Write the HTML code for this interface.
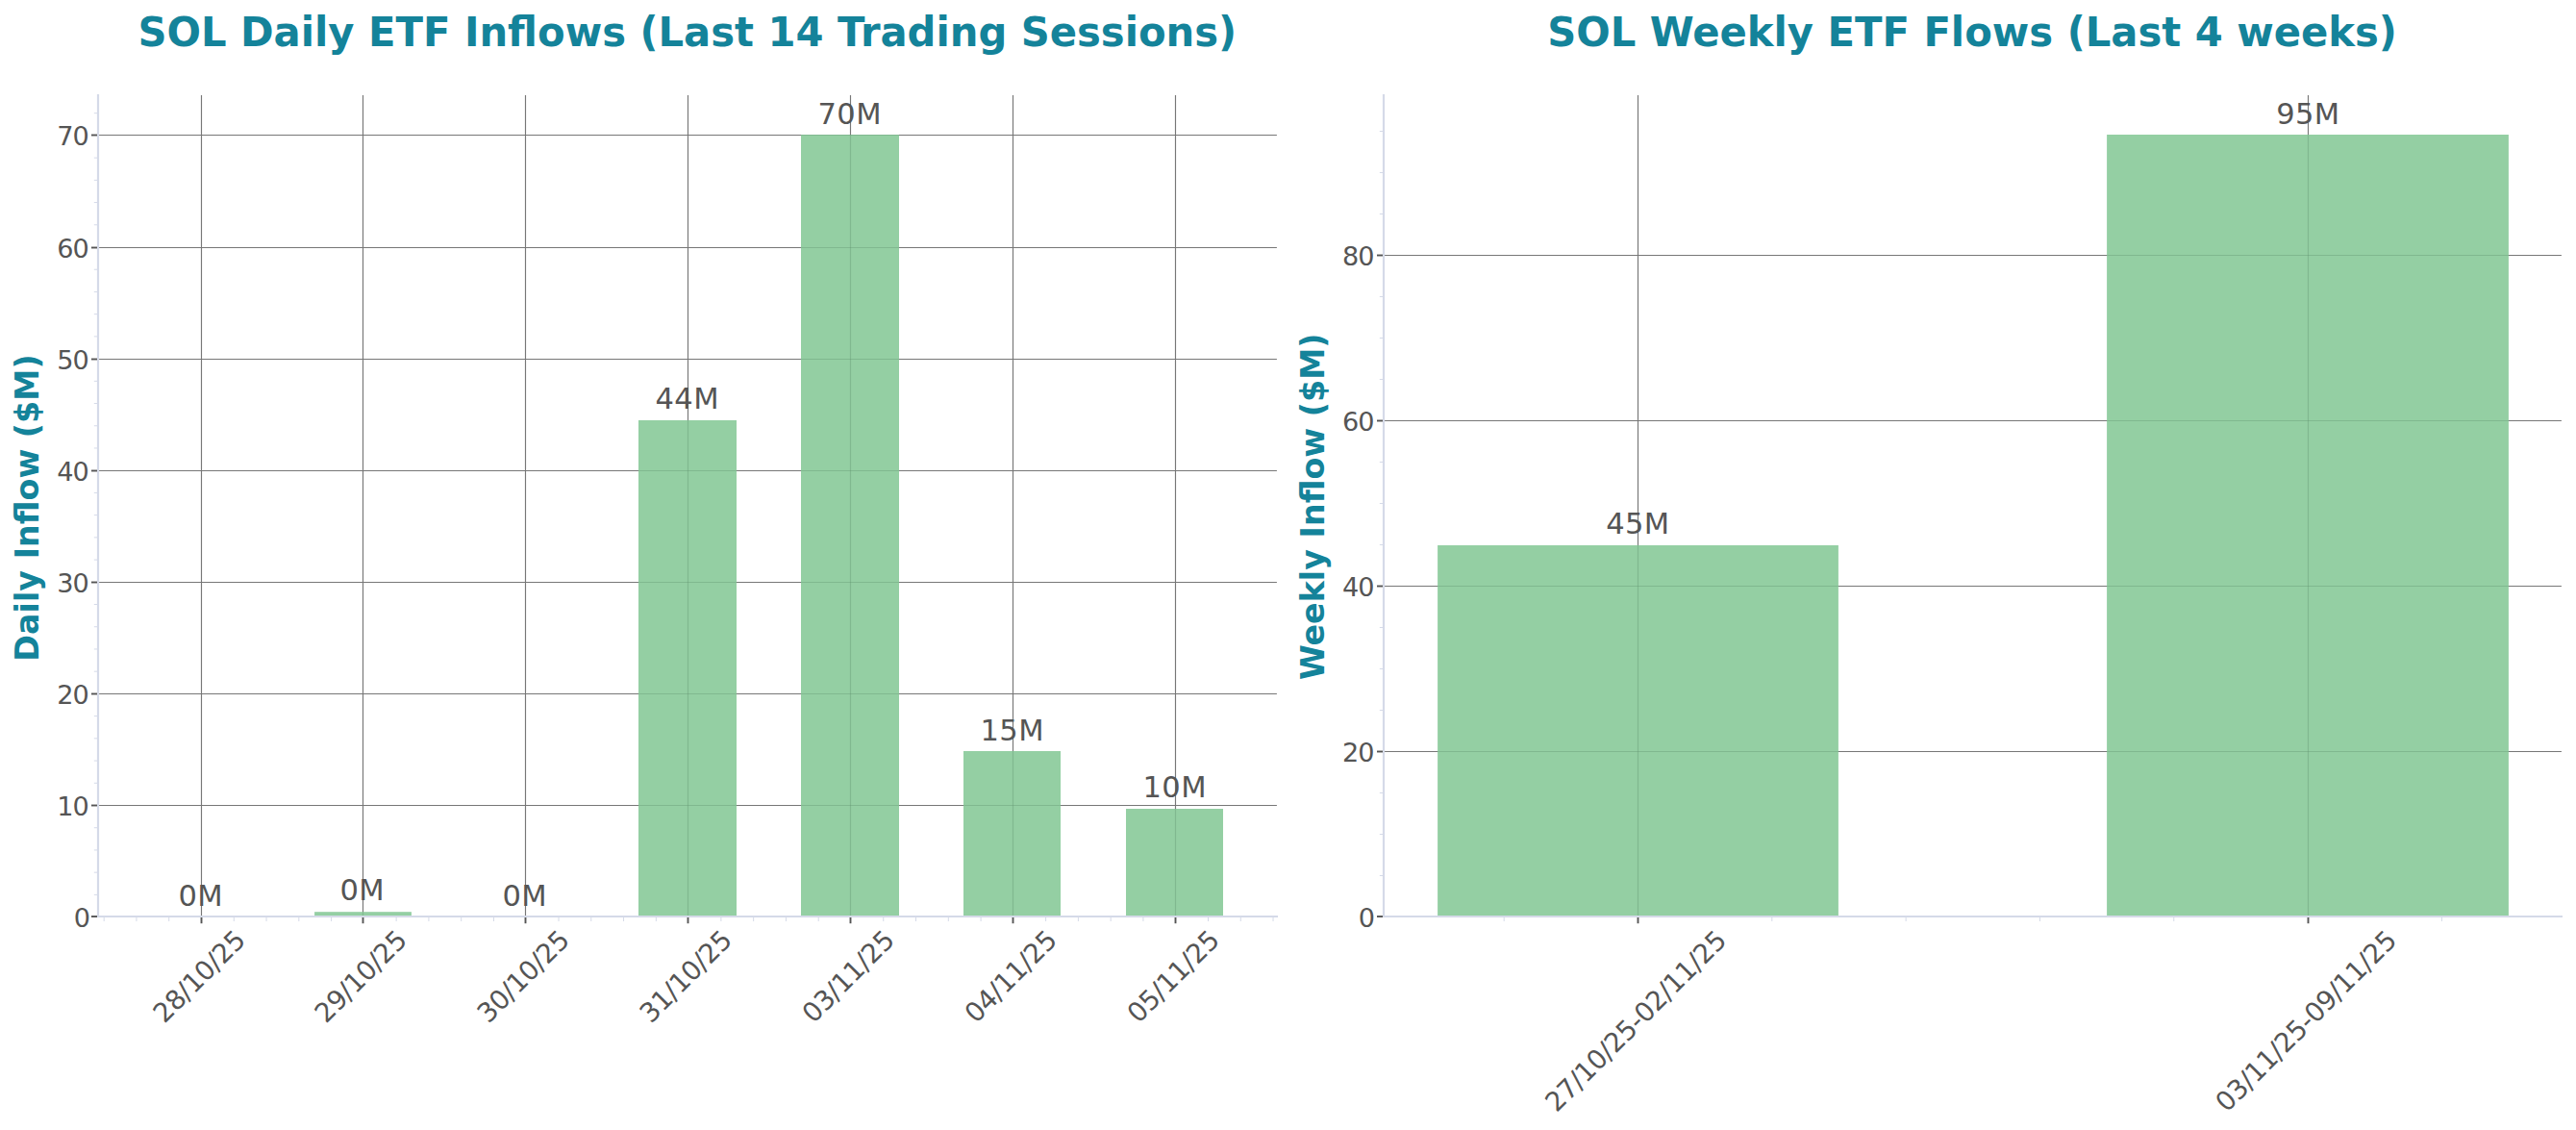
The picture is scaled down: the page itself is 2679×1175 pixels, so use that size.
<!DOCTYPE html>
<html lang="en"><head><meta charset="utf-8"><title>SOL ETF Flows</title>
<style>
html,body{margin:0;padding:0;background:#fff;}
body{width:2679px;height:1175px;overflow:hidden;}
svg{display:block;font-family:"DejaVu Sans", "Liberation Sans", sans-serif;}
</style></head><body>
<svg width="2679" height="1175" viewBox="0 0 2679 1175">
<rect width="2679" height="1175" fill="#ffffff"/>
<g stroke="#777777" stroke-width="1.15" fill="none">
<line x1="102.0" y1="837.50" x2="1327.9" y2="837.50"/>
<line x1="102.0" y1="721.50" x2="1327.9" y2="721.50"/>
<line x1="102.0" y1="605.50" x2="1327.9" y2="605.50"/>
<line x1="102.0" y1="489.50" x2="1327.9" y2="489.50"/>
<line x1="102.0" y1="373.50" x2="1327.9" y2="373.50"/>
<line x1="102.0" y1="257.50" x2="1327.9" y2="257.50"/>
<line x1="102.0" y1="140.50" x2="1327.9" y2="140.50"/>
<line x1="209.50" y1="99.0" x2="209.50" y2="953.0"/>
<line x1="377.50" y1="99.0" x2="377.50" y2="953.0"/>
<line x1="546.50" y1="99.0" x2="546.50" y2="953.0"/>
<line x1="715.50" y1="99.0" x2="715.50" y2="953.0"/>
<line x1="884.50" y1="99.0" x2="884.50" y2="953.0"/>
<line x1="1053.50" y1="99.0" x2="1053.50" y2="953.0"/>
<line x1="1222.50" y1="99.0" x2="1222.50" y2="953.0"/>
</g>
<g fill="#94cfa3">
<rect x="327.10" y="948.20" width="100.80" height="4.80"/>
<rect x="664.00" y="437.00" width="102.00" height="516.00"/>
<rect x="833.00" y="140.00" width="102.00" height="813.00"/>
<rect x="1002.00" y="781.00" width="101.00" height="172.00"/>
<rect x="1171.00" y="841.00" width="101.00" height="112.00"/>
</g>
<g stroke="#5f8f6c" stroke-opacity="0.36" stroke-width="1.1" fill="none">
<line x1="377.50" y1="948.20" x2="377.50" y2="953.0"/>
<line x1="715.50" y1="437.00" x2="715.50" y2="953.0"/>
<line x1="664.00" y1="837.50" x2="766.00" y2="837.50"/>
<line x1="664.00" y1="721.50" x2="766.00" y2="721.50"/>
<line x1="664.00" y1="605.50" x2="766.00" y2="605.50"/>
<line x1="664.00" y1="489.50" x2="766.00" y2="489.50"/>
<line x1="884.50" y1="140.00" x2="884.50" y2="953.0"/>
<line x1="833.00" y1="837.50" x2="935.00" y2="837.50"/>
<line x1="833.00" y1="721.50" x2="935.00" y2="721.50"/>
<line x1="833.00" y1="605.50" x2="935.00" y2="605.50"/>
<line x1="833.00" y1="489.50" x2="935.00" y2="489.50"/>
<line x1="833.00" y1="373.50" x2="935.00" y2="373.50"/>
<line x1="833.00" y1="257.50" x2="935.00" y2="257.50"/>
<line x1="833.00" y1="140.50" x2="935.00" y2="140.50"/>
<line x1="1053.50" y1="781.00" x2="1053.50" y2="953.0"/>
<line x1="1002.00" y1="837.50" x2="1103.00" y2="837.50"/>
<line x1="1222.50" y1="841.00" x2="1222.50" y2="953.0"/>
</g>
<g stroke="#d5dae8" stroke-width="2.2" fill="none" stroke-linecap="square">
<line x1="102.0" y1="99.0" x2="102.0" y2="953.0"/>
<line x1="102.0" y1="953.0" x2="1327.9" y2="953.0"/>
</g>
<g stroke="#d5dae8" stroke-width="1.0" fill="none">
<line x1="97.8" y1="930.38" x2="101.0" y2="930.38"/>
<line x1="97.8" y1="907.16" x2="101.0" y2="907.16"/>
<line x1="97.8" y1="883.94" x2="101.0" y2="883.94"/>
<line x1="97.8" y1="860.72" x2="101.0" y2="860.72"/>
<line x1="97.8" y1="814.28" x2="101.0" y2="814.28"/>
<line x1="97.8" y1="791.06" x2="101.0" y2="791.06"/>
<line x1="97.8" y1="767.84" x2="101.0" y2="767.84"/>
<line x1="97.8" y1="744.62" x2="101.0" y2="744.62"/>
<line x1="97.8" y1="698.18" x2="101.0" y2="698.18"/>
<line x1="97.8" y1="674.96" x2="101.0" y2="674.96"/>
<line x1="97.8" y1="651.74" x2="101.0" y2="651.74"/>
<line x1="97.8" y1="628.52" x2="101.0" y2="628.52"/>
<line x1="97.8" y1="582.08" x2="101.0" y2="582.08"/>
<line x1="97.8" y1="558.86" x2="101.0" y2="558.86"/>
<line x1="97.8" y1="535.64" x2="101.0" y2="535.64"/>
<line x1="97.8" y1="512.42" x2="101.0" y2="512.42"/>
<line x1="97.8" y1="465.98" x2="101.0" y2="465.98"/>
<line x1="97.8" y1="442.76" x2="101.0" y2="442.76"/>
<line x1="97.8" y1="419.54" x2="101.0" y2="419.54"/>
<line x1="97.8" y1="396.32" x2="101.0" y2="396.32"/>
<line x1="97.8" y1="349.88" x2="101.0" y2="349.88"/>
<line x1="97.8" y1="326.66" x2="101.0" y2="326.66"/>
<line x1="97.8" y1="303.44" x2="101.0" y2="303.44"/>
<line x1="97.8" y1="280.22" x2="101.0" y2="280.22"/>
<line x1="97.8" y1="233.78" x2="101.0" y2="233.78"/>
<line x1="97.8" y1="210.56" x2="101.0" y2="210.56"/>
<line x1="97.8" y1="187.34" x2="101.0" y2="187.34"/>
<line x1="97.8" y1="164.12" x2="101.0" y2="164.12"/>
<line x1="97.8" y1="117.68" x2="101.0" y2="117.68"/>
<line x1="108.18" y1="954.0" x2="108.18" y2="958.0"/>
<line x1="141.95" y1="954.0" x2="141.95" y2="958.0"/>
<line x1="175.73" y1="954.0" x2="175.73" y2="958.0"/>
<line x1="243.27" y1="954.0" x2="243.27" y2="958.0"/>
<line x1="277.05" y1="954.0" x2="277.05" y2="958.0"/>
<line x1="310.82" y1="954.0" x2="310.82" y2="958.0"/>
<line x1="344.60" y1="954.0" x2="344.60" y2="958.0"/>
<line x1="412.14" y1="954.0" x2="412.14" y2="958.0"/>
<line x1="445.92" y1="954.0" x2="445.92" y2="958.0"/>
<line x1="479.69" y1="954.0" x2="479.69" y2="958.0"/>
<line x1="513.47" y1="954.0" x2="513.47" y2="958.0"/>
<line x1="581.01" y1="954.0" x2="581.01" y2="958.0"/>
<line x1="614.79" y1="954.0" x2="614.79" y2="958.0"/>
<line x1="648.56" y1="954.0" x2="648.56" y2="958.0"/>
<line x1="682.34" y1="954.0" x2="682.34" y2="958.0"/>
<line x1="749.88" y1="954.0" x2="749.88" y2="958.0"/>
<line x1="783.66" y1="954.0" x2="783.66" y2="958.0"/>
<line x1="817.43" y1="954.0" x2="817.43" y2="958.0"/>
<line x1="851.21" y1="954.0" x2="851.21" y2="958.0"/>
<line x1="918.75" y1="954.0" x2="918.75" y2="958.0"/>
<line x1="952.53" y1="954.0" x2="952.53" y2="958.0"/>
<line x1="986.30" y1="954.0" x2="986.30" y2="958.0"/>
<line x1="1020.08" y1="954.0" x2="1020.08" y2="958.0"/>
<line x1="1087.62" y1="954.0" x2="1087.62" y2="958.0"/>
<line x1="1121.40" y1="954.0" x2="1121.40" y2="958.0"/>
<line x1="1155.17" y1="954.0" x2="1155.17" y2="958.0"/>
<line x1="1188.95" y1="954.0" x2="1188.95" y2="958.0"/>
<line x1="1256.49" y1="954.0" x2="1256.49" y2="958.0"/>
<line x1="1290.27" y1="954.0" x2="1290.27" y2="958.0"/>
<line x1="1324.04" y1="954.0" x2="1324.04" y2="958.0"/>
</g>
<g stroke="#555555" stroke-width="1.9" fill="none">
<line x1="95.0" y1="953.00" x2="101.0" y2="953.00"/>
<line x1="95.0" y1="837.50" x2="101.0" y2="837.50"/>
<line x1="95.0" y1="721.50" x2="101.0" y2="721.50"/>
<line x1="95.0" y1="605.50" x2="101.0" y2="605.50"/>
<line x1="95.0" y1="489.50" x2="101.0" y2="489.50"/>
<line x1="95.0" y1="373.50" x2="101.0" y2="373.50"/>
<line x1="95.0" y1="257.50" x2="101.0" y2="257.50"/>
<line x1="95.0" y1="140.50" x2="101.0" y2="140.50"/>
<line x1="209.50" y1="954.0" x2="209.50" y2="960.2"/>
<line x1="377.50" y1="954.0" x2="377.50" y2="960.2"/>
<line x1="546.50" y1="954.0" x2="546.50" y2="960.2"/>
<line x1="715.50" y1="954.0" x2="715.50" y2="960.2"/>
<line x1="884.50" y1="954.0" x2="884.50" y2="960.2"/>
<line x1="1053.50" y1="954.0" x2="1053.50" y2="960.2"/>
<line x1="1222.50" y1="954.0" x2="1222.50" y2="960.2"/>
</g>
<g font-size="27.1" fill="#555555" text-anchor="end" letter-spacing="-1.0">
<text x="93.00" y="963.50">0</text>
<text x="91.70" y="848.00">10</text>
<text x="91.70" y="732.00">20</text>
<text x="91.70" y="616.00">30</text>
<text x="91.70" y="500.00">40</text>
<text x="91.70" y="384.00">50</text>
<text x="91.70" y="268.00">60</text>
<text x="91.70" y="151.00">70</text>
</g>
<g font-size="30.56" fill="#555555" text-anchor="middle" letter-spacing="0.42">
<text x="208.70" y="941.80">0M</text>
<text x="376.70" y="936.30">0M</text>
<text x="545.70" y="941.50">0M</text>
<text x="714.70" y="425.20">44M</text>
<text x="883.70" y="129.20">70M</text>
<text x="1052.70" y="770.00">15M</text>
<text x="1221.70" y="828.70">10M</text>
</g>
<g font-size="27.78" fill="#555555" text-anchor="middle" letter-spacing="-0.45">
<text transform="translate(207.50,1015.90) rotate(-45)" x="0" y="8.9">28/10/25</text>
<text transform="translate(375.50,1015.90) rotate(-45)" x="0" y="8.9">29/10/25</text>
<text transform="translate(544.50,1015.90) rotate(-45)" x="0" y="8.9">30/10/25</text>
<text transform="translate(713.50,1015.90) rotate(-45)" x="0" y="8.9">31/10/25</text>
<text transform="translate(882.50,1015.90) rotate(-45)" x="0" y="8.9">03/11/25</text>
<text transform="translate(1051.50,1015.90) rotate(-45)" x="0" y="8.9">04/11/25</text>
<text transform="translate(1220.50,1015.90) rotate(-45)" x="0" y="8.9">05/11/25</text>
</g>
<text transform="translate(714.8,47.9) scale(1,1.02)" font-size="41.71" font-weight="bold" fill="#14839a" text-anchor="middle">SOL Daily ETF Inflows (Last 14 Trading Sessions)</text>
<text transform="translate(40.4,528) rotate(-90)" font-size="33.33" font-weight="bold" fill="#14839a" text-anchor="middle">Daily Inflow ($M)</text>
<g stroke="#777777" stroke-width="1.15" fill="none">
<line x1="1439.0" y1="781.50" x2="2663.9" y2="781.50"/>
<line x1="1439.0" y1="609.50" x2="2663.9" y2="609.50"/>
<line x1="1439.0" y1="437.50" x2="2663.9" y2="437.50"/>
<line x1="1439.0" y1="265.50" x2="2663.9" y2="265.50"/>
<line x1="1703.50" y1="99.0" x2="1703.50" y2="953.0"/>
<line x1="2400.50" y1="99.0" x2="2400.50" y2="953.0"/>
</g>
<g fill="#94cfa3">
<rect x="1495.10" y="567.00" width="416.80" height="386.00"/>
<rect x="2191.10" y="140.00" width="417.80" height="813.00"/>
</g>
<g stroke="#5f8f6c" stroke-opacity="0.36" stroke-width="1.1" fill="none">
<line x1="1703.50" y1="567.00" x2="1703.50" y2="953.0"/>
<line x1="1495.10" y1="781.50" x2="1911.90" y2="781.50"/>
<line x1="1495.10" y1="609.50" x2="1911.90" y2="609.50"/>
<line x1="2400.50" y1="140.00" x2="2400.50" y2="953.0"/>
<line x1="2191.10" y1="781.50" x2="2608.90" y2="781.50"/>
<line x1="2191.10" y1="609.50" x2="2608.90" y2="609.50"/>
<line x1="2191.10" y1="437.50" x2="2608.90" y2="437.50"/>
<line x1="2191.10" y1="265.50" x2="2608.90" y2="265.50"/>
</g>
<g stroke="#d5dae8" stroke-width="2.2" fill="none" stroke-linecap="square">
<line x1="1439.0" y1="99.0" x2="1439.0" y2="953.0"/>
<line x1="1439.0" y1="953.0" x2="2663.9" y2="953.0"/>
</g>
<g stroke="#d5dae8" stroke-width="1.0" fill="none">
<line x1="1434.8" y1="910.50" x2="1438.0" y2="910.50"/>
<line x1="1434.8" y1="867.50" x2="1438.0" y2="867.50"/>
<line x1="1434.8" y1="824.50" x2="1438.0" y2="824.50"/>
<line x1="1434.8" y1="738.50" x2="1438.0" y2="738.50"/>
<line x1="1434.8" y1="695.50" x2="1438.0" y2="695.50"/>
<line x1="1434.8" y1="652.50" x2="1438.0" y2="652.50"/>
<line x1="1434.8" y1="566.50" x2="1438.0" y2="566.50"/>
<line x1="1434.8" y1="523.50" x2="1438.0" y2="523.50"/>
<line x1="1434.8" y1="480.50" x2="1438.0" y2="480.50"/>
<line x1="1434.8" y1="394.50" x2="1438.0" y2="394.50"/>
<line x1="1434.8" y1="351.50" x2="1438.0" y2="351.50"/>
<line x1="1434.8" y1="308.50" x2="1438.0" y2="308.50"/>
<line x1="1434.8" y1="222.50" x2="1438.0" y2="222.50"/>
<line x1="1434.8" y1="179.50" x2="1438.0" y2="179.50"/>
<line x1="1434.8" y1="136.50" x2="1438.0" y2="136.50"/>
<line x1="1564.18" y1="954.0" x2="1564.18" y2="958.0"/>
<line x1="1842.82" y1="954.0" x2="1842.82" y2="958.0"/>
<line x1="1982.14" y1="954.0" x2="1982.14" y2="958.0"/>
<line x1="2121.46" y1="954.0" x2="2121.46" y2="958.0"/>
<line x1="2260.78" y1="954.0" x2="2260.78" y2="958.0"/>
<line x1="2539.42" y1="954.0" x2="2539.42" y2="958.0"/>
</g>
<g stroke="#555555" stroke-width="1.9" fill="none">
<line x1="1432.0" y1="953.00" x2="1438.0" y2="953.00"/>
<line x1="1432.0" y1="781.50" x2="1438.0" y2="781.50"/>
<line x1="1432.0" y1="609.50" x2="1438.0" y2="609.50"/>
<line x1="1432.0" y1="437.50" x2="1438.0" y2="437.50"/>
<line x1="1432.0" y1="265.50" x2="1438.0" y2="265.50"/>
<line x1="1703.50" y1="954.0" x2="1703.50" y2="960.2"/>
<line x1="2400.50" y1="954.0" x2="2400.50" y2="960.2"/>
</g>
<g font-size="27.1" fill="#555555" text-anchor="end" letter-spacing="-1.0">
<text x="1429.10" y="963.50">0</text>
<text x="1428.50" y="792.00">20</text>
<text x="1428.50" y="620.00">40</text>
<text x="1428.50" y="448.00">60</text>
<text x="1428.50" y="276.00">80</text>
</g>
<g font-size="30.56" fill="#555555" text-anchor="middle" letter-spacing="0.42">
<text x="1703.40" y="555.20">45M</text>
<text x="2400.40" y="129.40">95M</text>
</g>
<g font-size="27.78" fill="#555555" text-anchor="middle" letter-spacing="-0.45">
<text transform="translate(1701.50,1062.30) rotate(-45)" x="0" y="8.9">27/10/25-02/11/25</text>
<text transform="translate(2398.50,1062.30) rotate(-45)" x="0" y="8.9">03/11/25-09/11/25</text>
</g>
<text transform="translate(2051.0,47.9) scale(1,1.02)" font-size="41.71" font-weight="bold" fill="#14839a" text-anchor="middle">SOL Weekly ETF Flows (Last 4 weeks)</text>
<text transform="translate(1377,526.8) rotate(-90)" font-size="33.33" font-weight="bold" fill="#14839a" text-anchor="middle">Weekly Inflow ($M)</text>
</svg>
</body></html>
